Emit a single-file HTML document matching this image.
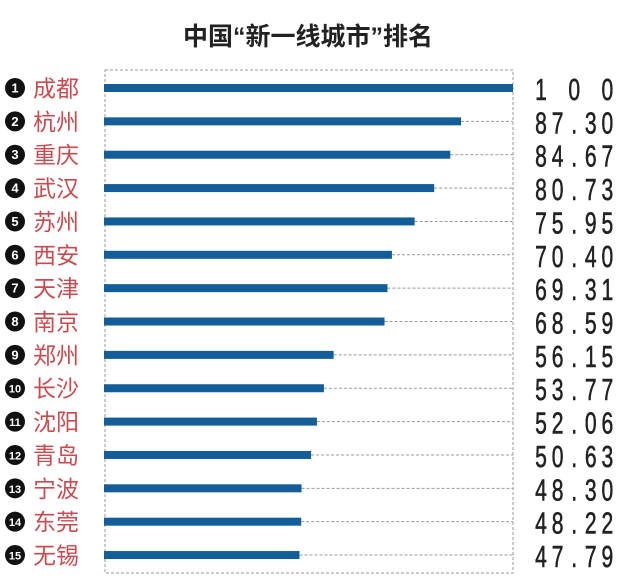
<!DOCTYPE html>
<html><head><meta charset="utf-8"><style>
html,body{margin:0;padding:0;background:#fff;}
svg{display:block}
</style></head><body>
<svg width="631" height="583" viewBox="0 0 631 583" xmlns="http://www.w3.org/2000/svg">
<rect width="631" height="583" fill="#fff"/>
<text x="308" y="45" text-anchor="middle" font-family="Liberation Sans, Noto Sans CJK SC, sans-serif" font-size="25" font-weight="bold" fill="#222">中国“新一线城市”排名</text>
<rect x="105" y="70" width="408" height="503" fill="none" stroke="#999" stroke-width="1" stroke-dasharray="3,2"/>
<g id="rows"></g>
</svg>
<script>
var d=[["成都","1 0 0",100],["杭州","87.30",87.30],["重庆","84.67",84.67],["武汉","80.73",80.73],["苏州","75.95",75.95],["西安","70.40",70.40],["天津","69.31",69.31],["南京","68.59",68.59],["郑州","56.15",56.15],["长沙","53.77",53.77],["沈阳","52.06",52.06],["青岛","50.63",50.63],["宁波","48.30",48.30],["东莞","48.22",48.22],["无锡","47.79",47.79]];
var g=document.getElementById('rows'),h='';
d.forEach(function(r,i){
 var y=88+i*33.36, e=104+r[2]*4.09;
 h+='<line x1="'+e+'" y1="'+y+'" x2="513" y2="'+y+'" stroke="#999" stroke-width="1" stroke-dasharray="3,2"/>';
 h+='<rect x="104" y="'+(y-4)+'" width="'+(e-104)+'" height="8" fill="#135d98"/>';
 h+='<circle cx="15" cy="'+y+'" r="10" fill="#111"/>';
 h+='<text x="15" y="'+(y+4.5)+'" text-anchor="middle" font-family="Liberation Sans Narrow, Liberation Sans, sans-serif" font-weight="bold" font-size="'+(i<9?13:11)+'" fill="#fff">'+(i+1)+'</text>';
 h+='<text x="33" y="'+(y+8.5)+'" font-family="Liberation Sans, Noto Sans CJK SC, sans-serif" font-size="23" fill="#c94a4f">'+r[0]+'</text>';
 var s=r[1];
 for(var k=0;k<s.length;k++){ if(s[k]==' ')continue;
  var x=541+k*16.6;
  h+='<text x="'+x+'" y="'+(y+12)+'" text-anchor="middle" font-family="Liberation Sans Narrow, Liberation Sans, sans-serif" font-size="31" fill="#222" stroke="#222" stroke-width="0.6" transform="translate('+x+' 0) scale(0.68 1) translate('+(-x)+' 0)">'+s[k]+'</text>';}
});
g.innerHTML=h;
</script>
</body></html>
